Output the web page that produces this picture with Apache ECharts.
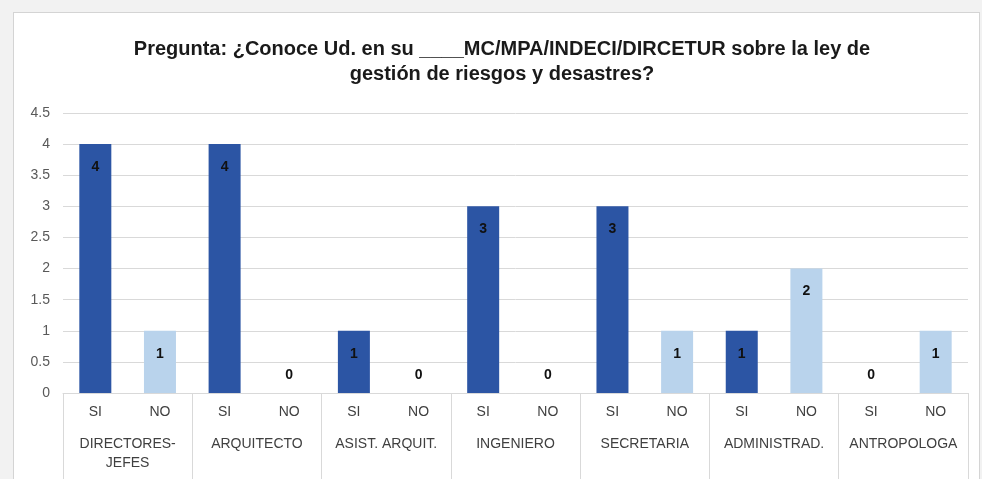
<!DOCTYPE html>
<html>
<head>
<meta charset="utf-8">
<script src="https://cdn.jsdelivr.net/npm/echarts@6/dist/echarts.min.js"></script>
<style>
  html, body { margin: 0; padding: 0; background: #f2f2f2; }
  #box {
    position: absolute; left: 13px; top: 12px; width: 965px; height: 470px;
    background: #fff; border: 1px solid #d4d4d4;
  }
  #main { position: absolute; left: 0; top: 0; width: 982px; height: 479px; }
</style>
</head>
<body>
<div id="box"></div>
<div id="main"></div>
<script>
// grupos (cargos) y respuestas
var groups = ['DIRECTORES-\nJEFES', 'ARQUITECTO', 'ASIST. ARQUIT.', 'INGENIERO', 'SECRETARIA', 'ADMINISTRAD.', 'ANTROPOLOGA'];
var answers = ['SI', 'NO'];
var siValues = [4, 4, 1, 3, 3, 1, 0];
var noValues = [1, 0, 0, 0, 1, 2, 1];
var yTicks = [0, 0.5, 1, 1.5, 2, 2.5, 3, 3.5, 4, 4.5];

var FONT = "'Liberation Sans', Arial, sans-serif";
var SI_COLOR = '#2c55a4';
var NO_COLOR = '#b9d3ec';

// eje inferior: SI/NO repetido por grupo
var xLabels = [];
var barData = [];
groups.forEach(function (g, i) {
  [siValues[i], noValues[i]].forEach(function (v, k) {
    xLabels.push(answers[k]);
    var item = { value: v, itemStyle: { color: k === 0 ? SI_COLOR : NO_COLOR } };
    if (v === 0) {
      item.label = { position: 'top', distance: 11 };
    }
    barData.push(item);
  });
});

var chartDom = document.getElementById('main');
var myChart = echarts.init(chartDom);
var option = {
  animation: false,
  title: {
    text: 'Pregunta: ¿Conoce Ud. en su ____MC/MPA/INDECI/DIRCETUR sobre la ley de\ngestión de riesgos y desastres?',
    left: 497,
    textAlign: 'center',
    top: 32,
    textStyle: {
      fontFamily: FONT,
      fontSize: 20,
      fontWeight: 'bold',
      color: '#1a1a1a',
      lineHeight: 25
    }
  },
  grid: { left: 63, right: 14, top: 113, bottom: 86 },
  xAxis: [
    {
      type: 'category',
      data: xLabels,
      axisLine: { show: true, lineStyle: { color: '#d9d9d9' } },
      axisTick: { show: false },
      axisLabel: { interval: 0, margin: 12, color: '#404040', fontFamily: FONT, fontSize: 14 }
    },
    {
      type: 'category',
      data: groups,
      position: 'bottom',
      axisLine: { show: false },
      axisTick: { show: true, interval: 0, length: 86, lineStyle: { color: '#d9d9d9' } },
      axisLabel: { interval: 0, margin: 42, color: '#404040', fontFamily: FONT, fontSize: 14, lineHeight: 19 }
    }
  ],
  yAxis: {
    type: 'value',
    min: yTicks[0],
    max: yTicks[yTicks.length - 1],
    interval: 0.5,
    axisLine: { show: false },
    axisTick: { show: false },
    axisLabel: { margin: 13, color: '#595959', fontFamily: FONT, fontSize: 14 },
    splitLine: { lineStyle: { color: '#d9d9d9' } }
  },
  series: [
    {
      type: 'bar',
      xAxisIndex: 0,
      barWidth: 32,
      data: barData,
      label: {
        show: true,
        position: 'insideTop',
        distance: 16,
        color: '#111',
        fontWeight: 'bold',
        fontFamily: FONT,
        fontSize: 14
      }
    }
  ]
};
myChart.setOption(option);
</script>
</body>
</html>
